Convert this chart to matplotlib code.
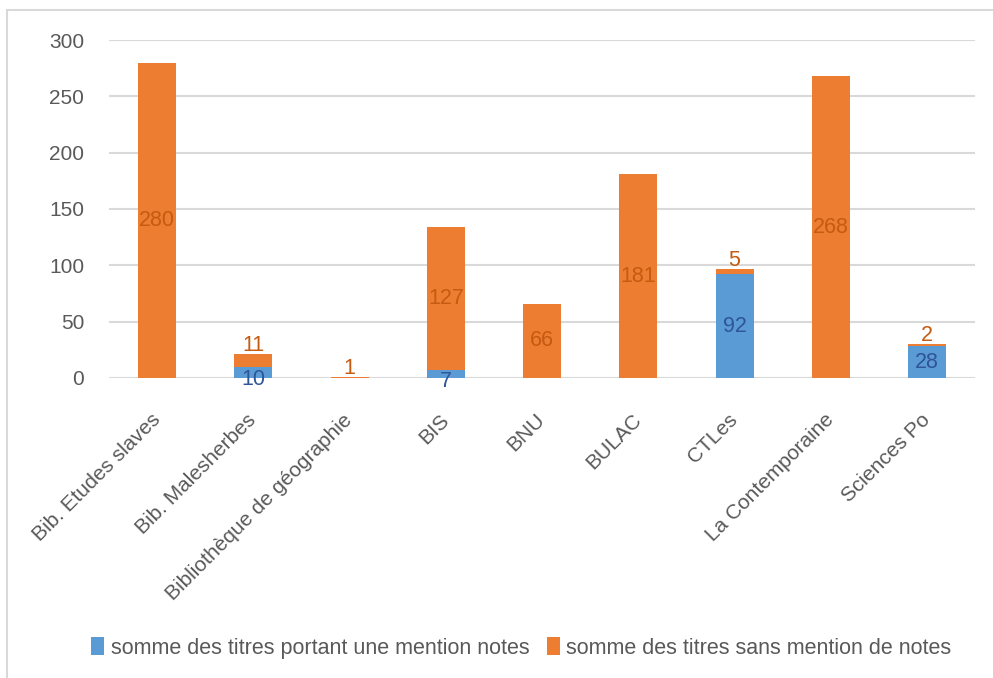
import numpy as np
import matplotlib.pyplot as plt
from matplotlib.patches import Rectangle

plt.rcParams['font.family'] = ['Liberation Sans', 'DejaVu Sans']

# data
sites = ['Bib. Etudes slaves', 'Bib. Malesherbes', 'Bibliothèque de géographie',
         'BIS', 'BNU', 'BULAC', 'CTLes', 'La Contemporaine', 'Sciences Po']
avec_notes = [0, 10, 0, 7, 0, 0, 92, 0, 28]
sans_notes = [280, 11, 1, 127, 66, 181, 5, 268, 2]
yticks = [0, 50, 100, 150, 200, 250, 300]

BLUE = '#5B9BD5'
ORANGE = '#ED7D31'
BLUE_TXT = '#2F5597'
ORANGE_TXT = '#C55A11'
GRID = '#D9D9D9'
TXT = '#595959'

fig = plt.figure(figsize=(9.93, 6.78), dpi=100)
ax = fig.add_axes([0.1098, 0.4425, 0.8722, 0.4985])

# light frame around the chart area
fig.patches.append(Rectangle((7 / 993, -0.1), 1.2, 1 - 10 / 678 + 0.1,
                             transform=fig.transFigure, fill=False,
                             edgecolor=GRID, linewidth=1.5))

x = np.arange(len(sites))
w = 0.395
b1 = ax.bar(x, avec_notes, w, color=BLUE, label='somme des titres portant une mention notes', zorder=3)
b2 = ax.bar(x, sans_notes, w, bottom=avec_notes, color=ORANGE,
            label='somme des titres sans mention de notes', zorder=3)

# data labels
for i in range(len(sites)):
    v = avec_notes[i]
    if v > 0:
        off = -7 if v < 15 else 0
        ax.annotate(str(v), (x[i], v / 2), xytext=(0, off), textcoords='offset pixels',
                    ha='center', va='center', color=BLUE_TXT, fontsize=15.5, zorder=4)
    s = sans_notes[i]
    if s > 0:
        if s < 15:
            ax.annotate(str(s), (x[i], avec_notes[i] + s), xytext=(0, -2),
                        textcoords='offset pixels', ha='center', va='bottom',
                        color=ORANGE_TXT, fontsize=15.5, zorder=4)
        else:
            ax.annotate(str(s), (x[i], avec_notes[i] + s / 2), ha='center', va='center',
                        color=ORANGE_TXT, fontsize=15.5, zorder=4)

ax.set_xlim(-0.5, len(sites) - 0.5)
ax.set_ylim(0, 300)
ax.set_yticks(yticks)
ax.set_xticks(x)
ax.set_xticklabels(sites, rotation=45, ha='right', va='center', rotation_mode='anchor')
ax.tick_params(axis='both', length=0, colors=TXT, labelsize=15)
ax.tick_params(axis='y', pad=18)
ax.tick_params(axis='x', pad=28)
ax.grid(axis='y', color=GRID, linewidth=1.5, zorder=0)
for sp in ax.spines.values():
    sp.set_visible(False)

leg = fig.legend(loc='center', bbox_to_anchor=(0.525, 0.044), ncol=2, frameon=False,
                 fontsize=15.5, handlelength=0.6, handleheight=0.9, handletextpad=0.3,
                 columnspacing=0.8)
for t in leg.get_texts():
    t.set_color(TXT)

fig.savefig('out.png', dpi=100)
